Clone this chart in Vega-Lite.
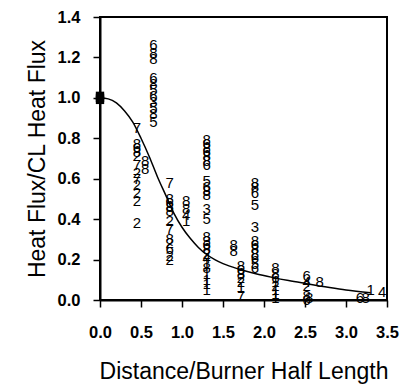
{
  "$schema": "https://vega.github.io/schema/vega-lite/v6.json",
  "width": 287,
  "height": 283,
  "autosize": {"type": "none"},
  "padding": {"left": 100, "top": 17, "right": 20, "bottom": 89},
  "background": "white",
  "config": {
    "font": "Liberation Sans",
    "view": {"stroke": "black", "strokeWidth": 2},
    "axis": {
      "grid": false,
      "labelFlush": false,
      "domainColor": "black",
      "domainWidth": 2,
      "tickColor": "black",
      "tickWidth": 1.5,
      "tickSize": 7,
      "labelColor": "black",
      "labelFont": "Liberation Sans",
      "labelFontSize": 16.5,
      "labelFontWeight": "bold",
      "titleColor": "black",
      "titleFont": "Liberation Sans",
      "titleFontSize": 23,
      "titleFontWeight": "normal"
    }
  },
  "datasets": {
    "pts": [
      {"x": 0.45, "y": 0.85, "d": "7"},
      {"x": 0.45, "y": 0.77, "d": "8"},
      {"x": 0.45, "y": 0.75, "d": "6"},
      {"x": 0.45, "y": 0.73, "d": "8"},
      {"x": 0.45, "y": 0.71, "d": "2"},
      {"x": 0.45, "y": 0.67, "d": "7"},
      {"x": 0.45, "y": 0.63, "d": "2"},
      {"x": 0.45, "y": 0.6, "d": "7"},
      {"x": 0.45, "y": 0.57, "d": "2"},
      {"x": 0.45, "y": 0.53, "d": "2"},
      {"x": 0.45, "y": 0.49, "d": "2"},
      {"x": 0.45, "y": 0.38, "d": "2"},
      {"x": 0.55, "y": 0.69, "d": "8"},
      {"x": 0.55, "y": 0.65, "d": "8"},
      {"x": 0.65, "y": 1.26, "d": "6"},
      {"x": 0.65, "y": 1.22, "d": "8"},
      {"x": 0.65, "y": 1.19, "d": "8"},
      {"x": 0.65, "y": 1.1, "d": "6"},
      {"x": 0.65, "y": 1.07, "d": "8"},
      {"x": 0.65, "y": 1.04, "d": "5"},
      {"x": 0.65, "y": 1.01, "d": "6"},
      {"x": 0.65, "y": 0.98, "d": "3"},
      {"x": 0.65, "y": 0.95, "d": "5"},
      {"x": 0.65, "y": 0.92, "d": "8"},
      {"x": 0.65, "y": 0.88, "d": "5"},
      {"x": 0.85, "y": 0.58, "d": "7"},
      {"x": 0.85, "y": 0.5, "d": "8"},
      {"x": 0.85, "y": 0.48, "d": "6"},
      {"x": 0.85, "y": 0.46, "d": "8"},
      {"x": 0.85, "y": 0.44, "d": "8"},
      {"x": 0.85, "y": 0.39, "d": "2"},
      {"x": 0.85, "y": 0.35, "d": "7"},
      {"x": 0.85, "y": 0.3, "d": "8"},
      {"x": 0.85, "y": 0.28, "d": "2"},
      {"x": 0.85, "y": 0.25, "d": "6"},
      {"x": 0.85, "y": 0.22, "d": "2"},
      {"x": 0.85, "y": 0.2, "d": "2"},
      {"x": 1.05, "y": 0.49, "d": "8"},
      {"x": 1.05, "y": 0.45, "d": "8"},
      {"x": 1.05, "y": 0.42, "d": "4"},
      {"x": 1.05, "y": 0.39, "d": "1"},
      {"x": 1.3, "y": 0.79, "d": "8"},
      {"x": 1.3, "y": 0.77, "d": "6"},
      {"x": 1.3, "y": 0.75, "d": "8"},
      {"x": 1.3, "y": 0.73, "d": "6"},
      {"x": 1.3, "y": 0.71, "d": "8"},
      {"x": 1.3, "y": 0.69, "d": "8"},
      {"x": 1.3, "y": 0.67, "d": "6"},
      {"x": 1.3, "y": 0.59, "d": "5"},
      {"x": 1.3, "y": 0.56, "d": "6"},
      {"x": 1.3, "y": 0.54, "d": "8"},
      {"x": 1.3, "y": 0.52, "d": "8"},
      {"x": 1.3, "y": 0.45, "d": "3"},
      {"x": 1.3, "y": 0.4, "d": "5"},
      {"x": 1.3, "y": 0.31, "d": "8"},
      {"x": 1.3, "y": 0.29, "d": "3"},
      {"x": 1.3, "y": 0.27, "d": "6"},
      {"x": 1.3, "y": 0.25, "d": "8"},
      {"x": 1.3, "y": 0.23, "d": "2"},
      {"x": 1.3, "y": 0.21, "d": "4"},
      {"x": 1.3, "y": 0.18, "d": "1"},
      {"x": 1.3, "y": 0.16, "d": "8"},
      {"x": 1.3, "y": 0.13, "d": "1"},
      {"x": 1.3, "y": 0.1, "d": "1"},
      {"x": 1.3, "y": 0.08, "d": "1"},
      {"x": 1.3, "y": 0.05, "d": "1"},
      {"x": 1.63, "y": 0.27, "d": "8"},
      {"x": 1.63, "y": 0.24, "d": "8"},
      {"x": 1.72, "y": 0.17, "d": "8"},
      {"x": 1.72, "y": 0.15, "d": "6"},
      {"x": 1.72, "y": 0.13, "d": "8"},
      {"x": 1.72, "y": 0.11, "d": "2"},
      {"x": 1.72, "y": 0.09, "d": "2"},
      {"x": 1.72, "y": 0.06, "d": "1"},
      {"x": 1.72, "y": 0.02, "d": "7"},
      {"x": 1.89, "y": 0.58, "d": "8"},
      {"x": 1.89, "y": 0.56, "d": "8"},
      {"x": 1.89, "y": 0.53, "d": "6"},
      {"x": 1.89, "y": 0.47, "d": "5"},
      {"x": 1.89, "y": 0.36, "d": "3"},
      {"x": 1.89, "y": 0.29, "d": "8"},
      {"x": 1.89, "y": 0.27, "d": "6"},
      {"x": 1.89, "y": 0.25, "d": "8"},
      {"x": 1.89, "y": 0.23, "d": "8"},
      {"x": 1.89, "y": 0.21, "d": "6"},
      {"x": 1.89, "y": 0.18, "d": "5"},
      {"x": 1.89, "y": 0.16, "d": "6"},
      {"x": 2.14, "y": 0.16, "d": "8"},
      {"x": 2.14, "y": 0.13, "d": "8"},
      {"x": 2.14, "y": 0.11, "d": "6"},
      {"x": 2.14, "y": 0.09, "d": "1"},
      {"x": 2.14, "y": 0.07, "d": "2"},
      {"x": 2.14, "y": 0.05, "d": "1"},
      {"x": 2.14, "y": 0.03, "d": "1"},
      {"x": 2.14, "y": 0.01, "d": "1"},
      {"x": 2.52, "y": 0.12, "d": "6"},
      {"x": 2.52, "y": 0.09, "d": "4"},
      {"x": 2.52, "y": 0.07, "d": "2"},
      {"x": 2.52, "y": 0.02, "d": "8"},
      {"x": 2.52, "y": 0.0, "d": "6"},
      {"x": 2.55, "y": 0.01, "d": "8"},
      {"x": 2.68, "y": 0.09, "d": "8"},
      {"x": 3.17, "y": 0.01, "d": "6"},
      {"x": 3.24, "y": 0.01, "d": "8"},
      {"x": 3.3, "y": 0.05, "d": "1"},
      {"x": 3.44, "y": 0.04, "d": "4"}
    ],
    "curve": [
      {"x": 0.0, "y": 1.0},
      {"x": 0.1, "y": 0.995},
      {"x": 0.2, "y": 0.975},
      {"x": 0.3, "y": 0.935},
      {"x": 0.4, "y": 0.88},
      {"x": 0.5, "y": 0.8},
      {"x": 0.6, "y": 0.71},
      {"x": 0.7, "y": 0.61},
      {"x": 0.8, "y": 0.52},
      {"x": 0.9, "y": 0.43},
      {"x": 1.0, "y": 0.36},
      {"x": 1.1, "y": 0.305},
      {"x": 1.2, "y": 0.26},
      {"x": 1.3, "y": 0.225},
      {"x": 1.4, "y": 0.2},
      {"x": 1.5, "y": 0.18},
      {"x": 1.7, "y": 0.152},
      {"x": 1.9, "y": 0.13},
      {"x": 2.1, "y": 0.112},
      {"x": 2.3, "y": 0.096},
      {"x": 2.5, "y": 0.082},
      {"x": 2.8, "y": 0.062},
      {"x": 3.0, "y": 0.05},
      {"x": 3.3, "y": 0.036}
    ],
    "sq": [
      {"x": 0.0, "y": 1.0},
      {"x": 0.0, "y": 0.99},
      {"x": 0.0, "y": 1.01}
    ]
  },
  "layer": [
    {
      "data": {"name": "curve"},
      "mark": {"type": "line", "color": "black", "strokeWidth": 1.5, "interpolate": "monotone"},
      "encoding": {
        "x": {
          "field": "x", "type": "quantitative",
          "scale": {"domain": [0, 3.5], "nice": false},
          "axis": {"values": [0, 0.5, 1, 1.5, 2, 2.5, 3, 3.5], "format": ".1f", "title": "Distance/Burner Half Length", "labelPadding": 17, "titlePadding": 20}
        },
        "y": {
          "field": "y", "type": "quantitative",
          "scale": {"domain": [0, 1.4], "nice": false},
          "axis": {"values": [0, 0.2, 0.4, 0.6, 0.8, 1, 1.2, 1.4], "format": ".1f", "title": "Heat Flux/CL Heat Flux", "labelPadding": 13, "titlePadding": 8}
        }
      }
    },
    {
      "data": {"name": "sq"},
      "mark": {"type": "point", "shape": "square", "filled": true, "color": "black", "size": 70, "opacity": 1, "clip": false},
      "encoding": {
        "x": {"field": "x", "type": "quantitative"},
        "y": {"field": "y", "type": "quantitative"}
      }
    },
    {
      "data": {"name": "pts"},
      "mark": {"type": "text", "color": "black", "font": "Liberation Sans", "fontSize": 15, "baseline": "middle", "align": "center", "clip": false},
      "encoding": {
        "x": {"field": "x", "type": "quantitative"},
        "y": {"field": "y", "type": "quantitative"},
        "text": {"field": "d"}
      }
    }
  ]
}
